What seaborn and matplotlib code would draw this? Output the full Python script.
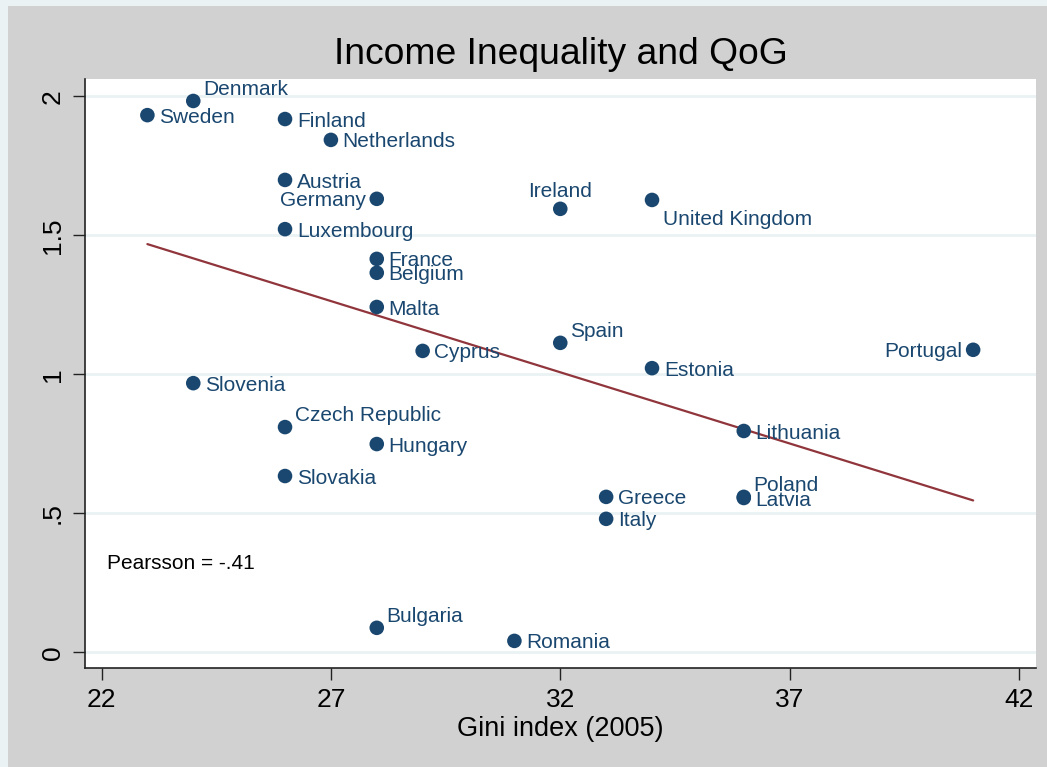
import matplotlib
matplotlib.use("Agg")
import matplotlib.pyplot as plt
import matplotlib.patches as mpatches
import seaborn as sns
import pandas as pd

# Gini index (2005) and Quality of Government per country
countries = ["Denmark", "Sweden", "Finland", "Netherlands", "Austria", "Germany",
             "Ireland", "United Kingdom", "Luxembourg", "France", "Belgium", "Malta",
             "Spain", "Cyprus", "Portugal", "Estonia", "Slovenia", "Czech Republic",
             "Lithuania", "Hungary", "Slovakia", "Greece", "Poland", "Latvia",
             "Italy", "Bulgaria", "Romania"]
gini = [24, 23, 26, 27, 26, 28,
        32, 34, 26, 28, 28, 28,
        32, 29, 41, 34, 24, 26,
        36, 28, 26, 33, 36, 36,
        33, 28, 31]
qog = [1.983, 1.932, 1.918, 1.843, 1.699, 1.631,
       1.595, 1.627, 1.522, 1.415, 1.365, 1.242,
       1.113, 1.084, 1.088, 1.022, 0.968, 0.810,
       0.796, 0.749, 0.634, 0.559, 0.559, 0.555,
       0.480, 0.088, 0.041]
# label position (clock) for each country, default 3 o'clock
label_pos = {"Denmark": 2, "Ireland": 12, "United Kingdom": 4, "Germany": 9,
             "Portugal": 9, "Spain": 2, "Czech Republic": 2, "Poland": 2,
             "Bulgaria": 2}

x_ticks = [22, 27, 32, 37, 42]
y_ticks = [0, 0.5, 1, 1.5, 2]
y_tick_labels = ["0", ".5", "1", "1.5", "2"]

df = pd.DataFrame({"country": countries, "gini": gini, "qog": qog})

navy = "#1a476f"
maroon = "#90353b"

sns.set_style("white")
plt.rcParams["font.family"] = ["Liberation Sans", "DejaVu Sans"]

fig = plt.figure(figsize=(10.47, 7.67), dpi=100)
fig.patch.set_facecolor("#eaf2f3")
fig.patches.append(mpatches.Rectangle((7.5 / 1047, 0), 1, (767 - 6) / 767,
                                      transform=fig.transFigure,
                                      facecolor="#d1d1d1", edgecolor="none", zorder=-5))
ax = fig.add_axes([85 / 1047, (767 - 668) / 767, (1036 - 85) / 1047, (668 - 79) / 767])
ax.set_zorder(1)
ax.set_facecolor("white")

for y in y_ticks:
    ax.axhline(y, color="#eaf2f3", lw=2, zorder=0)

sns.scatterplot(data=df, x="gini", y="qog", ax=ax, color=navy, s=110,
                edgecolor="none", zorder=3)
sns.regplot(data=df, x="gini", y="qog", ax=ax, scatter=False, ci=None,
            color=maroon, line_kws={"lw": 1.6, "zorder": 2})

offsets = {3: ((8.5, -1.5), "left", "center"),
           2: ((7, 8.5), "left", "center"),
           12: ((0, 12.5), "center", "center"),
           4: ((8, -14), "left", "center"),
           9: ((-7.5, -1), "right", "center")}
for c, gx, qy in zip(countries, gini, qog):
    off, ha, va = offsets[label_pos.get(c, 3)]
    ax.annotate(c, (gx, qy), xytext=off, textcoords="offset points",
                ha=ha, va=va, fontsize=15, color=navy, zorder=4)

ax.text(22.12, 0.318, "Pearsson = -.41", fontsize=15, color="black",
        ha="left", va="center")

ax.set_xlim(21.64, 42.37)
ax.set_ylim(-0.0565, 2.062)
ax.set_xticks(x_ticks)
ax.set_yticks(y_ticks)
ax.set_yticklabels(y_tick_labels)
ax.tick_params(axis="both", which="major", length=8.5, width=1, color="#222222",
               labelsize=19, labelcolor="black", pad=6, direction="out",
               left=True, bottom=True)
plt.setp(ax.get_yticklabels(), rotation=90, va="center")

for side in ["top", "right"]:
    ax.spines[side].set_visible(False)
for side in ["left", "bottom"]:
    ax.spines[side].set_color("#222222")
    ax.spines[side].set_linewidth(1.2)

ax.set_xlabel("Gini index (2005)", fontsize=19.5, labelpad=3, color="black")
ax.set_ylabel("")
fig.text(560.5 / 1047, 1 - 55 / 767, "Income Inequality and QoG", fontsize=26.8,
         ha="center", va="center", color="black")

fig.savefig("out.png", dpi=100, facecolor=fig.get_facecolor())
